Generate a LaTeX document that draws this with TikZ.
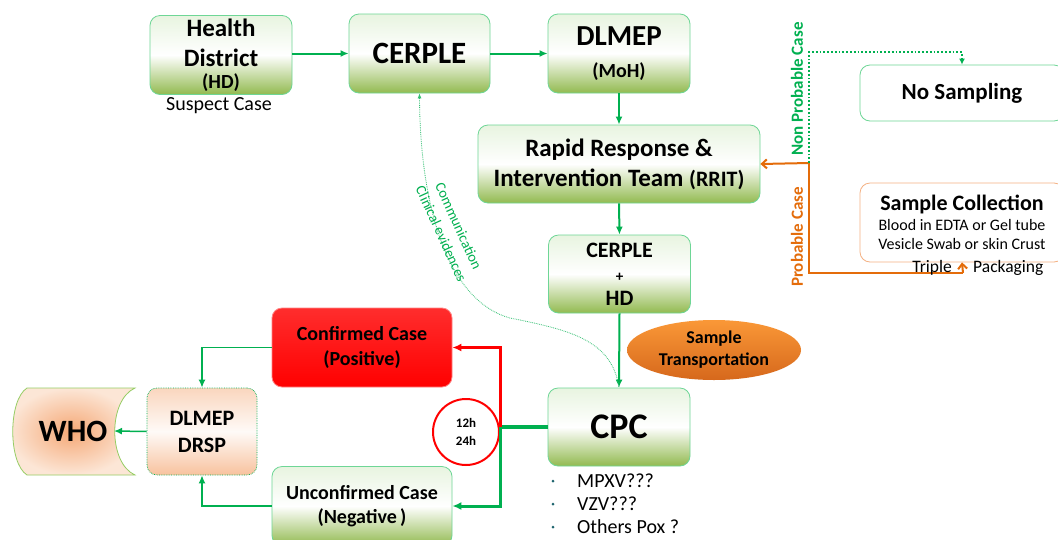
\documentclass[tikz,border=0pt]{standalone}
\usepackage{fontspec}
\setmainfont{Carlito}
\usetikzlibrary{arrows.meta,shapes.geometric}

\definecolor{bgreen}{RGB}{110,214,150}
\definecolor{lgreen}{RGB}{0,176,80}
\definecolor{olv}{RGB}{146,186,80}
\definecolor{ltop}{RGB}{232,244,224}
\definecolor{org}{RGB}{228,108,10}
\definecolor{peach}{RGB}{248,194,158}
\definecolor{peachtop}{RGB}{250,214,190}
\definecolor{oborder}{RGB}{244,177,131}
\definecolor{redtop}{RGB}{255,45,45}
\definecolor{redbd}{RGB}{255,130,130}
\definecolor{ellt}{RGB}{250,152,55}
\definecolor{ellb}{RGB}{214,104,28}
\definecolor{whoin}{RGB}{245,168,118}
\definecolor{whoout}{RGB}{252,230,214}
\definecolor{whobd}{RGB}{150,205,100}
\definecolor{bullc}{RGB}{30,100,110}

\tikzset{
  gbox/.style={draw=bgreen, line width=0.8pt, rounded corners=10pt,
    top color=ltop, bottom color=olv, middle color=white,
    align=center, inner sep=2pt},
  wbox/.style={draw=#1, line width=0.8pt, rounded corners=10pt, fill=white,
    align=center, inner sep=2pt},
  garrow/.style={draw=lgreen, line width=2pt, -{Latex[length=8pt,width=7pt]}},
  oarrow/.style={draw=org, line width=2pt, -{Straight Barb[length=5pt,width=9pt]}},
  rarrow/.style={draw=red, line width=3pt, -{Latex[length=9pt,width=8pt]}},
  tagtext/.style={font=\bfseries\fontsize{17}{20}\selectfont, inner sep=0pt}
}

\begin{document}
\begin{tikzpicture}[x=1pt,y=-1pt]
\useasboundingbox[fill=white] (0,0) rectangle (1058,539);

% top row
\node[gbox, minimum width=142pt, minimum height=79pt, font=\bfseries\fontsize{25}{30}\selectfont] (hd) at (221,55)
  {Health\\District\\[-8pt]{\fontsize{20}{22}\selectfont (HD)}};
\node[font=\fontsize{20}{22}\selectfont, inner sep=0pt] (susp) at (219,106) {Suspect Case};
\node[gbox, minimum width=141pt, minimum height=79pt, font=\bfseries\fontsize{31}{36}\selectfont] (cerple) at (419.5,53.5)
  {CERPLE};
\node[gbox, minimum width=142pt, minimum height=79pt, font=\bfseries\fontsize{29}{32}\selectfont] (dlmep) at (619,53.5)
  {DLMEP\\{\fontsize{20}{22}\selectfont (MoH)}};

\node[gbox, minimum width=282pt, minimum height=78pt, font=\bfseries\fontsize{25}{30}\selectfont] (rrit) at (619,164)
  {Rapid Response \&\\Intervention Team {\fontsize{22}{24}\selectfont(RRIT)}};

\node[gbox, minimum width=142pt, minimum height=78pt, font=\bfseries\fontsize{22}{24}\selectfont] (cp) at (619.5,274)
  {CERPLE\\{\fontsize{15}{16}\selectfont +}\\HD};

\node[ellipse, top color=ellt, bottom color=ellb, minimum width=174pt, minimum height=60pt,
  align=center, font=\bfseries\fontsize{18}{22}\selectfont, inner sep=0pt] (trans) at (714,350)
  {Sample\\Transportation};

\node[gbox, minimum width=142pt, minimum height=78pt, font=\bfseries\fontsize{36}{40}\selectfont] (cpc) at (619,427)
  {CPC};

% bullets
\foreach \yy/\lab/\nm in {481/MPXV???/b1, 504/VZV???/b2, 527/Others Pox ?/b3}{
  \fill[bullc] (553,\yy) circle (1.5pt);
  \node[anchor=west, font=\fontsize{20}{22}\selectfont, inner sep=0pt] (\nm) at (577,\yy) {\lab};
}

% results
\node[draw=redbd, line width=0.8pt, rounded corners=10pt, top color=redtop, bottom color=red,
  align=center, font=\bfseries\fontsize{20}{25}\selectfont, minimum width=180pt, minimum height=79pt,
  inner sep=2pt] (conf) at (362,347.5) {Confirmed Case\\(Positive)};
\node[gbox, minimum width=180pt, minimum height=79pt, font=\bfseries\fontsize{20}{24}\selectfont] (unconf) at (362,506)
  {Unconfirmed Case\\(Negative\,)};

\node[draw=lgreen, densely dotted, line width=0.7pt, rounded corners=10pt,
  top color=peachtop, bottom color=peach, middle color=white!92!peach,
  align=center, font=\bfseries\fontsize{22}{27}\selectfont,
  minimum width=110pt, minimum height=87pt, inner sep=2pt] (drsp) at (202,431.5) {DLMEP\\DRSP};

% WHO shape
\shade[inner color=whoin, outer color=whoout, draw=whobd, line width=0.8pt]
  (27,388) -- (135,388) .. controls (108,400) and (108,463) .. (135,475)
  -- (27,475) .. controls (8,463) and (8,400) .. (27,388) -- cycle;
\node[font=\bfseries\fontsize{31}{36}\selectfont, inner sep=0pt] (who) at (73,431) {WHO};
\coordinate (whoR) at (114,431);

% circle
\node[circle, draw=red, line width=2pt, fill=white, minimum size=66pt, inner sep=0pt,
  align=center, font=\bfseries\fontsize{13}{18}\selectfont] (circ) at (466,432) {12h\\24h};

% right side
\node[wbox=bgreen, minimum width=204pt, minimum height=56pt, font=\bfseries\fontsize{23}{26}\selectfont] (nosamp) at (962,93) {No Sampling};
\node[wbox=oborder, minimum width=204pt, minimum height=79pt, font=\fontsize{16}{19}\selectfont] (samp) at (962,222.5)
  {{\bfseries\fontsize{22}{24}\selectfont Sample Collection}\\[1pt]Blood in EDTA or Gel tube\\Vesicle Swab or skin Crust};

\coordinate (j) at (809,163);
\coordinate (jtop) at (809,52);
\coordinate (jbot) at (809,273);
\coordinate (pkg) at (963,273);

% connectors top
\draw[garrow] (hd.east |- cerple.west) -- (cerple.west);
\draw[garrow] (cerple.east) -- (dlmep.west);
\draw[garrow] (dlmep.south) -- (rrit.north);
\draw[garrow] (rrit.south) -- (cp.north);
\draw[garrow] (cp.south) -- (cpc.north);

% communication curve
\draw[lgreen!80!white, line width=0.8pt, densely dotted, {Latex[length=5pt,width=4pt]}-]
  (cerple.south) .. controls (420,200) and (445,300) .. (510,318)
  .. controls (570,330) and (612,340) .. (cpc.north);
\node[rotate=-65.5, align=center, text=lgreen, font=\fontsize{14.5}{19}\selectfont, inner sep=0pt] (comm) at (450,230)
  {Communication\\Clinical evidences};

% CPC outputs
\coordinate (k) at (500,427);
\draw[lgreen, line width=3.5pt] (cpc.west) -- (k);
\draw[rarrow] (k) |- (conf.east);
\draw[draw=lgreen, line width=3pt, -{Latex[length=9pt,width=8pt]}] (k) |- (unconf.east);

\draw[garrow, line width=1.5pt] (conf.west) -| (drsp.north);
\draw[garrow, line width=1.5pt] (unconf.west) -| (drsp.south);
\draw[garrow, line width=1.5pt] (drsp.west) -- (whoR);

% probable / non probable
\draw[oarrow] (j) -- (rrit.east);
\draw[org, line width=2pt] (j) -- (jbot) -- (pkg);
\draw[oarrow] (pkg) -- (samp.south);
\draw[lgreen, line width=1.8pt, dotted, -{Latex[length=6pt,width=6pt]}] (j) -- (jtop) -| (nosamp.north);

\node[tagtext, rotate=90, text=lgreen] (npc) at (797,89) {Non Probable Case};
\node[tagtext, rotate=90, text=org] (pc) at (797,237) {Probable Case};

\node[anchor=east, font=\fontsize{17.5}{20}\selectfont, inner sep=0pt] (trip) at (952,268) {Triple};
\node[anchor=west, font=\fontsize{17.5}{20}\selectfont, inner sep=0pt] (pack) at (973,268) {Packaging};
\end{tikzpicture}
\end{document}
